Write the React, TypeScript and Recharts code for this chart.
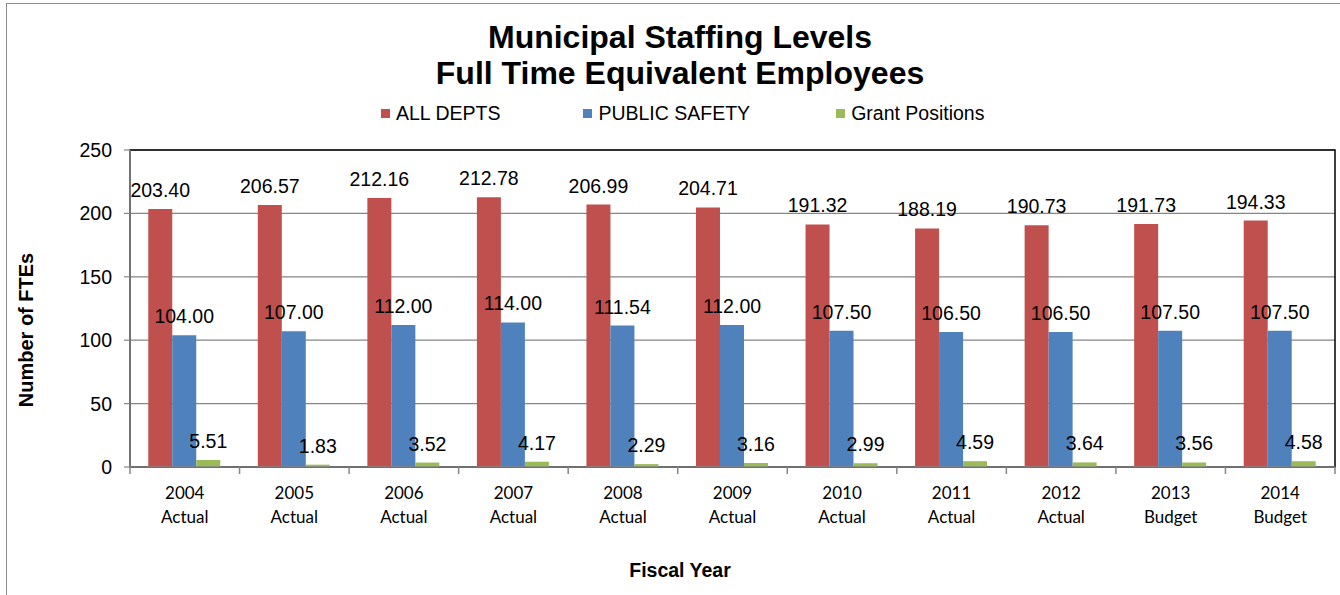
import React from 'react';
import { BarChart, Bar, XAxis, YAxis, CartesianGrid, LabelList, ReferenceArea } from 'recharts';

const years = ['2004', '2005', '2006', '2007', '2008', '2009', '2010', '2011', '2012', '2013', '2014'];
const kinds = ['Actual', 'Actual', 'Actual', 'Actual', 'Actual', 'Actual', 'Actual', 'Actual', 'Actual', 'Budget', 'Budget'];
const allDepts = [203.4, 206.57, 212.16, 212.78, 206.99, 204.71, 191.32, 188.19, 190.73, 191.73, 194.33];
const publicSafety = [104.0, 107.0, 112.0, 114.0, 111.54, 112.0, 107.5, 106.5, 106.5, 107.5, 107.5];
const grantPositions = [5.51, 1.83, 3.52, 4.17, 2.29, 3.16, 2.99, 4.59, 3.64, 3.56, 4.58];
const yTicks = [0, 50, 100, 150, 200, 250];

const seriesNames = ['ALL DEPTS', 'PUBLIC SAFETY', 'Grant Positions'];
const colors = ['#C0504D', '#4F81BD', '#9BBB59'];

const data = years.map((y, i) => ({
  year: y,
  kind: kinds[i],
  all: allDepts[i],
  ps: publicSafety[i],
  grant: grantPositions[i],
}));

const ARIAL = '"Liberation Sans", Arial, sans-serif';

const CatTick = (props: any) => {
  const { x, y, payload, index } = props;
  const off = payload && payload.offset ? payload.offset : 54.8;
  const kind = kinds[index] ?? '';
  return (
    <g>
      <line x1={x - off} x2={x - off} y1={y} y2={y + 7} stroke="#868686" strokeWidth={1.5} />
      {index === years.length - 1 && (
        <line x1={x + off} x2={x + off} y1={y} y2={y + 7} stroke="#868686" strokeWidth={1.5} />
      )}
      <text x={x} y={y + 32} textAnchor="middle" fontFamily="Lato, sans-serif" fontSize={17} fill="#000">
        {payload.value}
      </text>
      <text x={x} y={y + 56} textAnchor="middle" fontFamily="Lato, sans-serif" fontSize={17} fill="#000">
        {kind}
      </text>
    </g>
  );
};

const fmt = (v: any) => Number(v).toFixed(2);

export default function App() {
  return (
    <div style={{ position: 'absolute', left: 0, top: 0, width: 1340, height: 595, background: '#fff', overflow: 'hidden' }}>
      <div
        style={{
          position: 'absolute',
          left: 6,
          top: 3,
          width: 1400,
          height: 700,
          border: '1.5px solid #8c8c8c',
          boxSizing: 'border-box',
        }}
      />
      <div
        style={{
          position: 'absolute',
          left: 0,
          top: 19,
          width: 1360,
          textAlign: 'center',
          fontFamily: ARIAL,
          fontWeight: 'bold',
          fontSize: 32,
          lineHeight: '36px',
          color: '#000',
        }}
      >
        <div>Municipal Staffing Levels</div>
        <div>Full Time Equivalent Employees</div>
      </div>
      <div
        style={{
          position: 'absolute',
          left: 381,
          top: 101,
          height: 24,
          display: 'flex',
          alignItems: 'center',
          whiteSpace: 'nowrap',
        }}
      >
        {seriesNames.map((n, i) => (
          <div key={n} style={{ display: 'flex', alignItems: 'center', marginRight: i === 0 ? 83 : 86 }}>
            <span style={{ width: 9, height: 9, background: colors[i], display: 'inline-block', marginRight: 6 }} />
            <span style={{ fontFamily: ARIAL, fontSize: 19.5, color: '#000' }}>{n}</span>
          </div>
        ))}
      </div>
      <BarChart
        width={1340}
        height={595}
        data={data}
        margin={{ top: 150, right: 5, bottom: 0, left: 0 }}
        barCategoryGap="16.67%"
        barGap={0}
        style={{ position: 'absolute', left: 0, top: 0 }}
      >
        <CartesianGrid vertical={false} stroke="#868686" strokeWidth={1.2} />
        <ReferenceArea y1={0} y2={250} fill="none" stroke="#000" strokeWidth={1.5} />
        <XAxis
          dataKey="year"
          height={128}
          tickLine={false}
          tickSize={0}
          tickMargin={0}
          axisLine={{ stroke: '#868686', strokeWidth: 1.5 }}
          tick={<CatTick />}
          interval={0}
          label={{
            content: () => (
              <text x={680} y={577} textAnchor="middle" fontFamily={ARIAL} fontWeight="bold" fontSize={19.5} fill="#000">
                Fiscal Year
              </text>
            ),
          }}
        />
        <YAxis
          width={130}
          domain={[0, 250]}
          ticks={yTicks}
          interval={0}
          tickSize={6}
          tickMargin={12}
          axisLine={{ stroke: '#868686', strokeWidth: 1.5 }}
          tickLine={{ stroke: '#868686', strokeWidth: 1.2 }}
          tick={{ fontFamily: ARIAL, fontSize: 19.5, fill: '#000' }}
          label={{
            content: () => (
              <text
                x={26}
                y={330}
                transform="rotate(-90 26 330)"
                textAnchor="middle"
                dominantBaseline="central"
                fontFamily={ARIAL}
                fontWeight="bold"
                fontSize={20}
                fill="#000"
              >
                Number of FTEs
              </text>
            ),
          }}
        />
        <Bar dataKey="all" name={seriesNames[0]} fill={colors[0]} isAnimationActive={false}>
          <LabelList dataKey="all" position="top" offset={12} formatter={fmt} fontFamily={ARIAL} fontSize={19.5} fill="#000" />
        </Bar>
        <Bar dataKey="ps" name={seriesNames[1]} fill={colors[1]} isAnimationActive={false}>
          <LabelList dataKey="ps" position="top" offset={12} formatter={fmt} fontFamily={ARIAL} fontSize={19.5} fill="#000" />
        </Bar>
        <Bar dataKey="grant" name={seriesNames[2]} fill={colors[2]} isAnimationActive={false}>
          <LabelList dataKey="grant" position="top" offset={12} formatter={fmt} fontFamily={ARIAL} fontSize={19.5} fill="#000" />
        </Bar>
      </BarChart>
    </div>
  );
}
